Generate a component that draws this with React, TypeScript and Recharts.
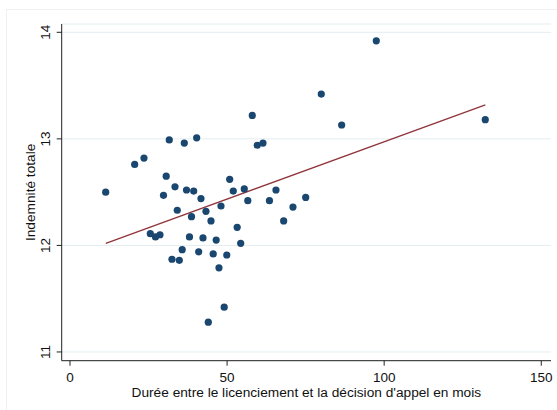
import React from "react";
import { ScatterChart, Scatter, XAxis, YAxis, CartesianGrid, ReferenceLine } from "recharts";

// durée (mois) et log de l'indemnité totale, une valeur par affaire
const dureeMois = [
  11.36, 20.59, 23.55, 31.6, 36.38, 40.32, 30.62, 29.76, 33.42, 37.08,
  39.37, 41.69, 34.15, 38.67, 43.28, 44.88, 25.56, 27.21, 28.64, 48.06,
  50.83, 51.97, 55.47, 56.59, 63.49, 65.56, 53.21, 54.33, 38.03, 42.33,
  46.53, 35.71, 40.96, 45.58, 49.9, 32.46, 34.79, 47.42, 49.08, 44.02,
  58.02, 86.47, 59.61, 61.43, 75.02, 70.97, 68.01, 97.49, 79.98, 132.18,
];
const indemnite = [
  12.5, 12.76, 12.82, 12.99, 12.96, 13.01, 12.65, 12.47, 12.55, 12.52,
  12.51, 12.44, 12.33, 12.27, 12.32, 12.23, 12.11, 12.08, 12.1, 12.37,
  12.62, 12.51, 12.53, 12.42, 12.42, 12.52, 12.17, 12.02, 12.08, 12.07,
  12.05, 11.96, 11.94, 11.92, 11.91, 11.87, 11.86, 11.79, 11.42, 11.28,
  13.22, 13.13, 12.94, 12.96, 12.45, 12.36, 12.23, 13.92, 13.42, 13.18,
];
// droite de régression (extrémités)
const ajustement = [
  { x: 11.4, y: 12.02 },
  { x: 132.2, y: 13.32 },
];
const xTicks = [0, 50, 100, 150];
const yTicks = [11, 12, 13, 14];

const points = dureeMois.map((x, i) => ({ x, y: indemnite[i] }));

const FONT = "'Liberation Sans', Arial, Helvetica, sans-serif";
const NAVY = "#1a476f";
const MAROON = "#90353b";
const AXIS = "#222";

const Dot = (props: any) => <circle cx={props.cx} cy={props.cy} r={3.6} fill={NAVY} />;

const XTick = (props: any) => (
  <text x={props.x} y={props.y + 16} textAnchor="middle" fontSize={13.5} fontFamily={FONT} fill="#111">
    {props.payload.value}
  </text>
);

const YTick = (props: any) => {
  const bx = props.x - 6.5;
  return (
    <text
      x={bx}
      y={props.y}
      transform={`rotate(-90, ${bx}, ${props.y})`}
      textAnchor="middle"
      fontSize={13.5}
      fontFamily={FONT}
      fill="#111"
    >
      {props.payload.value}
    </text>
  );
};

const XTitle = (props: any) => {
  const vb = props.viewBox;
  return (
    <text x={vb.x + vb.width / 2} y={396.5} textAnchor="middle" fontSize={13.7} fontFamily={FONT} fill="#111">
      Durée entre le licenciement et la décision d'appel en mois
    </text>
  );
};

const YTitle = (props: any) => {
  const vb = props.viewBox;
  const cy = vb.y + vb.height / 2;
  return (
    <text
      x={35}
      y={cy}
      transform={`rotate(-90, 35, ${cy})`}
      textAnchor="middle"
      fontSize={13.7}
      fontFamily={FONT}
      fill="#111"
    >
      Indemnité totale
    </text>
  );
};

export default function App() {
  return (
    <div
      style={{
        position: "fixed",
        left: 0,
        top: 0,
        width: 557,
        height: 410,
        overflow: "hidden",
        background: "#fff",
      }}
    >
      <div
        style={{
          position: "absolute",
          left: 6,
          top: 9,
          width: 600,
          height: 460,
          border: "1px solid #eef1f3",
        }}
      />
      <ScatterChart
        width={557}
        height={410}
        margin={{ top: 24, right: 6, bottom: 0, left: 0 }}
        style={{ position: "absolute", left: 0, top: 0 }}
      >
        <CartesianGrid vertical={false} stroke="#e4edf0" strokeWidth={1} />
        <XAxis
          type="number"
          dataKey="x"
          domain={[-2.64, 153.1]}
          ticks={xTicks}
          allowDataOverflow
          height={49.3}
          tickSize={5}
          tickMargin={0}
          stroke={AXIS}
          tick={<XTick />}
          label={{ content: <XTitle /> } as any}
        />
        <YAxis
          type="number"
          dataKey="y"
          domain={[10.918, 14.078]}
          ticks={yTicks}
          allowDataOverflow
          width={61.7}
          tickSize={5}
          tickMargin={0}
          stroke={AXIS}
          tick={<YTick />}
          label={{ content: <YTitle /> } as any}
        />
        <ReferenceLine
          segment={ajustement}
          stroke={MAROON}
          strokeWidth={1.3}
          ifOverflow="visible"
        />
        <Scatter data={points} fill={NAVY} shape={<Dot />} isAnimationActive={false} />
      </ScatterChart>
    </div>
  );
}
